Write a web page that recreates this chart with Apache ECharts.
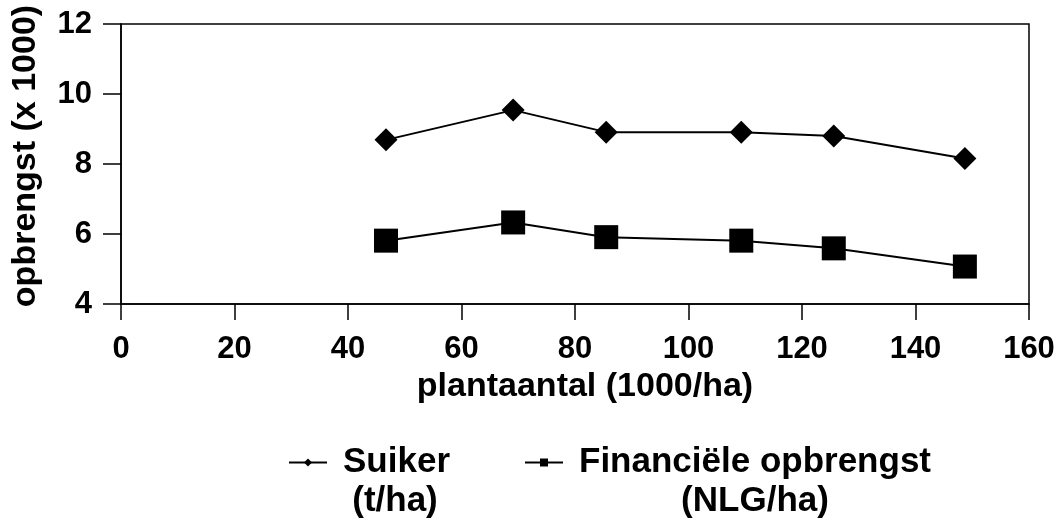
<!DOCTYPE html>
<html>
<head>
<meta charset="utf-8">
<script src="https://cdn.jsdelivr.net/npm/echarts@6/dist/echarts.min.js"></script>
<style>html,body{margin:0;padding:0;background:#fff}#c{width:1063px;height:526px}</style>
</head>
<body>
<div id="c"></div>
<script>
const plantaantal = [46.7, 69.1, 85.5, 109.3, 125.6, 148.7];
const suiker = [8.69, 9.54, 8.91, 8.91, 8.80, 8.16];
const financieel = [5.81, 6.33, 5.91, 5.81, 5.59, 5.07];
const seriesNames = ['Suiker', 'Financiële opbrengst'];
const seriesUnits = ['(t/ha)', '(NLG/ha)'];
const xTitle = 'plantaantal (1000/ha)';
const yTitle = 'opbrengst (x 1000)';

const FONT = '"Liberation Sans", Arial, sans-serif';
const chart = echarts.init(document.getElementById('c'), null, {renderer: 'canvas'});
const pair = (xs, ys) => xs.map((x, i) => [x, ys[i]]);

chart.setOption({
  animation: false,
  backgroundColor: '#fff',
  grid: {left: 121, right: 34, top: 24, bottom: 222, show: true, borderColor: '#000', borderWidth: 1.5, containLabel: false},
  xAxis: {
    type: 'value', min: 0, max: 160, interval: 20,
    name: xTitle, nameLocation: 'middle', nameGap: 57,
    nameTextStyle: {fontFamily: FONT, fontWeight: 'bold', fontSize: 34, color: '#000', padding: [0, 0, 0, 20]},
    axisLine: {show: true, onZero: false, lineStyle: {color: '#000', width: 1.5}},
    axisTick: {show: true, inside: false, length: 16, lineStyle: {color: '#000', width: 1.5}},
    axisLabel: {margin: 30, fontFamily: FONT, fontWeight: 'bold', fontSize: 31, color: '#000'},
    splitLine: {show: false}
  },
  yAxis: {
    type: 'value', min: 4, max: 12, interval: 2,
    name: yTitle, nameLocation: 'middle', nameGap: 78, nameRotate: 90,
    nameTextStyle: {fontFamily: FONT, fontWeight: 'bold', fontSize: 34, color: '#000', padding: [0, 0, 0, 16]},
    axisLine: {show: true, onZero: false, lineStyle: {color: '#000', width: 1.5}},
    axisTick: {show: true, inside: false, length: 18, lineStyle: {color: '#000', width: 1.5}},
    axisLabel: {margin: 29, fontFamily: FONT, fontWeight: 'bold', fontSize: 31, color: '#000'},
    splitLine: {show: false}
  },
  legend: {
    left: 283, top: 440, itemWidth: 38, itemHeight: 10, itemGap: 74,
    textStyle: {fontFamily: FONT, fontWeight: 'bold', fontSize: 35, color: '#000', padding: [0, 0, 0, 11]},
    data: seriesNames
  },
  graphic: [
    {type: 'text', x: 395, y: 484, style: {text: seriesUnits[0], fontFamily: FONT, fontWeight: 'bold', fontSize: 35, fill: '#000', align: 'center', verticalAlign: 'top'}},
    {type: 'text', x: 755, y: 484, style: {text: seriesUnits[1], fontFamily: FONT, fontWeight: 'bold', fontSize: 35, fill: '#000', align: 'center', verticalAlign: 'top'}}
  ],
  series: [
    {name: seriesNames[0], type: 'line', data: pair(plantaantal, suiker), symbol: 'diamond', symbolSize: 23,
     lineStyle: {color: '#000', width: 2}, itemStyle: {color: '#000'}},
    {name: seriesNames[1], type: 'line', data: pair(plantaantal, financieel), symbol: 'rect', symbolSize: 24,
     lineStyle: {color: '#000', width: 2}, itemStyle: {color: '#000'}}
  ]
});
</script>
</body>
</html>
